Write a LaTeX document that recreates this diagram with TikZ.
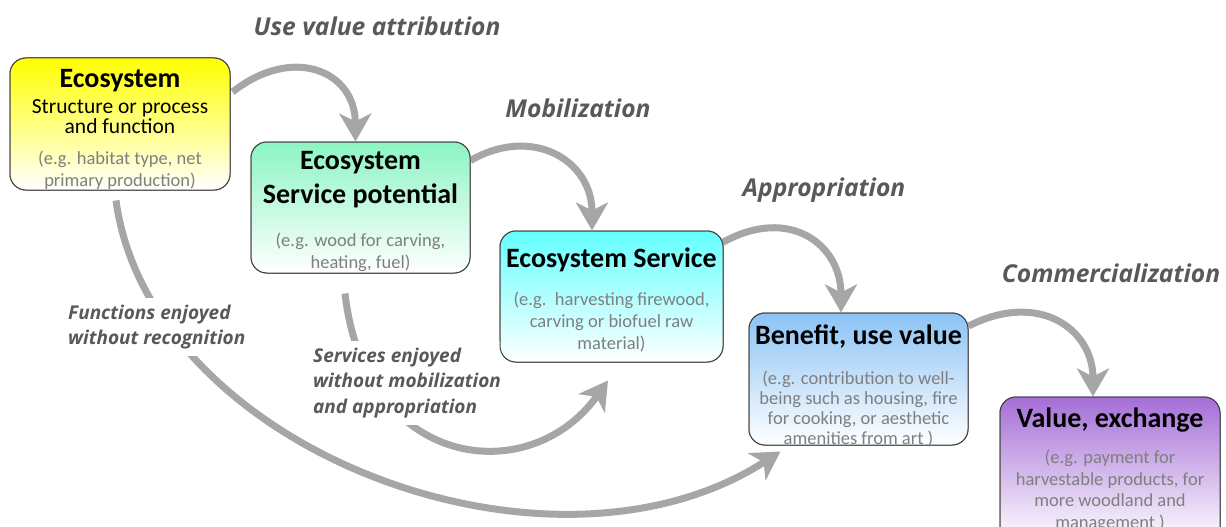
\documentclass[tikz,border=0pt]{standalone}
\usepackage{fontspec}
\setmainfont{Carlito}
\newfontfamily\lblfont{Open Sans}
\usetikzlibrary{arrows.meta,calc}
\definecolor{arrowgray}{RGB}{166,166,166}
\definecolor{boxborder}{RGB}{64,64,64}
\definecolor{txtgray}{RGB}{127,127,127}
\definecolor{lblgray}{RGB}{89,89,89}
\definecolor{cyellow}{RGB}{255,255,0}
\definecolor{cgreen}{RGB}{140,245,195}
\definecolor{ccyan}{RGB}{100,255,255}
\definecolor{cblue}{RGB}{140,195,245}
\definecolor{cpurple}{RGB}{165,110,215}
\tikzset{
  box/.style={draw=boxborder, line width=1pt, rounded corners=16pt, rectangle, bottom color=white, inner sep=0pt},
  ttl/.style={font=\fontsize{28}{30}\selectfont\bfseries, text=black, align=center, inner sep=0pt},
  sub/.style={font=\fontsize{21.5}{20.5}\selectfont, text=black, align=center, inner sep=0pt},
  note/.style={font=\fontsize{18.5}{22}\selectfont, text=txtgray, align=center, inner sep=0pt},
  lbl/.style={font=\lblfont\fontsize{24.6}{28}\selectfont\bfseries\itshape, text=lblgray, inner sep=0pt},
  sidelbl/.style={font=\lblfont\fontsize{19}{25.5}\selectfont\bfseries\itshape, text=lblgray, align=left, fill=white, inner xsep=2pt, inner ysep=7pt},
  flow/.style={draw=arrowgray, line width=7pt, -{Stealth[length=28pt,width=32pt,inset=8pt]}},
}
\begin{document}
\begin{tikzpicture}[x=1pt,y=-1pt]
\clip (0,0) rectangle (1226,527);
% boxes
\node[box, top color=cyellow, minimum width=220pt, minimum height=132pt] (eco) at (120,124) {};
\node[box, top color=cgreen, minimum width=219pt, minimum height=131pt] (esp) at (360.5,207.5) {};
\node[box, top color=ccyan, minimum width=223pt, minimum height=131pt] (es) at (611.5,296.5) {};
\node[box, top color=cblue, minimum width=219pt, minimum height=132pt] (ben) at (858.5,379) {};
\node[box, top color=cpurple, minimum width=220pt, minimum height=146pt] (val) at (1110,470) {};
% arrows
\draw[flow] ([shift={(2,-32)}]eco.east) .. controls (292,45) and (355,70) .. ([xshift=-5pt]esp.north);
\draw[flow] ([shift={(0,-47)}]esp.east) .. controls (532,125) and (592,160) .. ([xshift=-19.5pt]es.north);
\draw[flow] ([shift={(-1,-54)}]es.east) .. controls (790,205) and (841,245) .. ([xshift=-17.5pt]ben.north);
\draw[flow] ([shift={(0,-53)}]ben.east) .. controls (1040,290) and (1093,330) .. ([xshift=-17pt]val.north);
\draw[flow] ([shift={(-4,10)}]eco.south) .. controls (150,450) and (550,600) .. ([shift={(32,6)}]ben.south west);
\draw[flow] ([shift={(-15.5,20)}]esp.south) .. controls (365,470) and (530,490) .. ([shift={(-3.5,18)}]es.south);
% side labels (white fill hides the arrows behind them)
\node[sidelbl, anchor=west] (l5) at (66,327) {Functions enjoyed\\without recognition};
\node[sidelbl, anchor=west] (l6) at (311,383) {Services enjoyed\\without mobilization\\and appropriation};
% redraw boxes over arrow ends
\node[box, top color=cyellow, minimum width=220pt, minimum height=132pt] at (eco) {};
\node[box, top color=cgreen, minimum width=219pt, minimum height=131pt] at (esp) {};
\node[box, top color=ccyan, minimum width=223pt, minimum height=131pt] at (es) {};
\node[box, top color=cblue, minimum width=219pt, minimum height=132pt] at (ben) {};
\node[box, top color=cpurple, minimum width=220pt, minimum height=146pt] at (val) {};
% box texts
\node[ttl] (t1) at (120,80.5) {Ecosystem};
\node[sub] (s1) at (120,116.5) {Structure or process\\and function};
\node[note] (n1) at (120,170) {(e.g. habitat type, net\\primary production)};
\node[ttl, font=\fontsize{28}{34}\selectfont\bfseries] (t2) at (360.5,180) {Ecosystem\\Service potential};
\node[note] (n2) at (360.5,252) {(e.g. wood for carving,\\heating, fuel)};
\node[ttl] (t3) at (611.5,260) {Ecosystem Service};
\node[note] (n3) at (611.5,322.5) {(e.g.\ \ harvesting firewood,\\carving or biofuel raw\\material)};
\node[ttl] (t4) at (858.5,337) {Benefit, use value};
\node[note, font=\fontsize{18.5}{20}\selectfont] (n4) at (858.5,409) {(e.g. contribution to well-\\being such as housing, fire\\for cooking, or aesthetic\\amenities from art )};
\node[ttl] (t5) at (1110,420) {Value, exchange};
\node[note, font=\fontsize{18.5}{21.5}\selectfont] (n5) at (1110,491) {(e.g. payment for\\harvestable products, for\\more woodland and\\management )};
% process labels
\node[lbl] (l1) at (377,26) {Use value attribution};
\node[lbl] (l2) at (578,108) {Mobilization};
\node[lbl] (l3) at (824,190) {Appropriation};
\node[lbl] (l4) at (1111,273) {Commercialization};
\end{tikzpicture}
\end{document}
